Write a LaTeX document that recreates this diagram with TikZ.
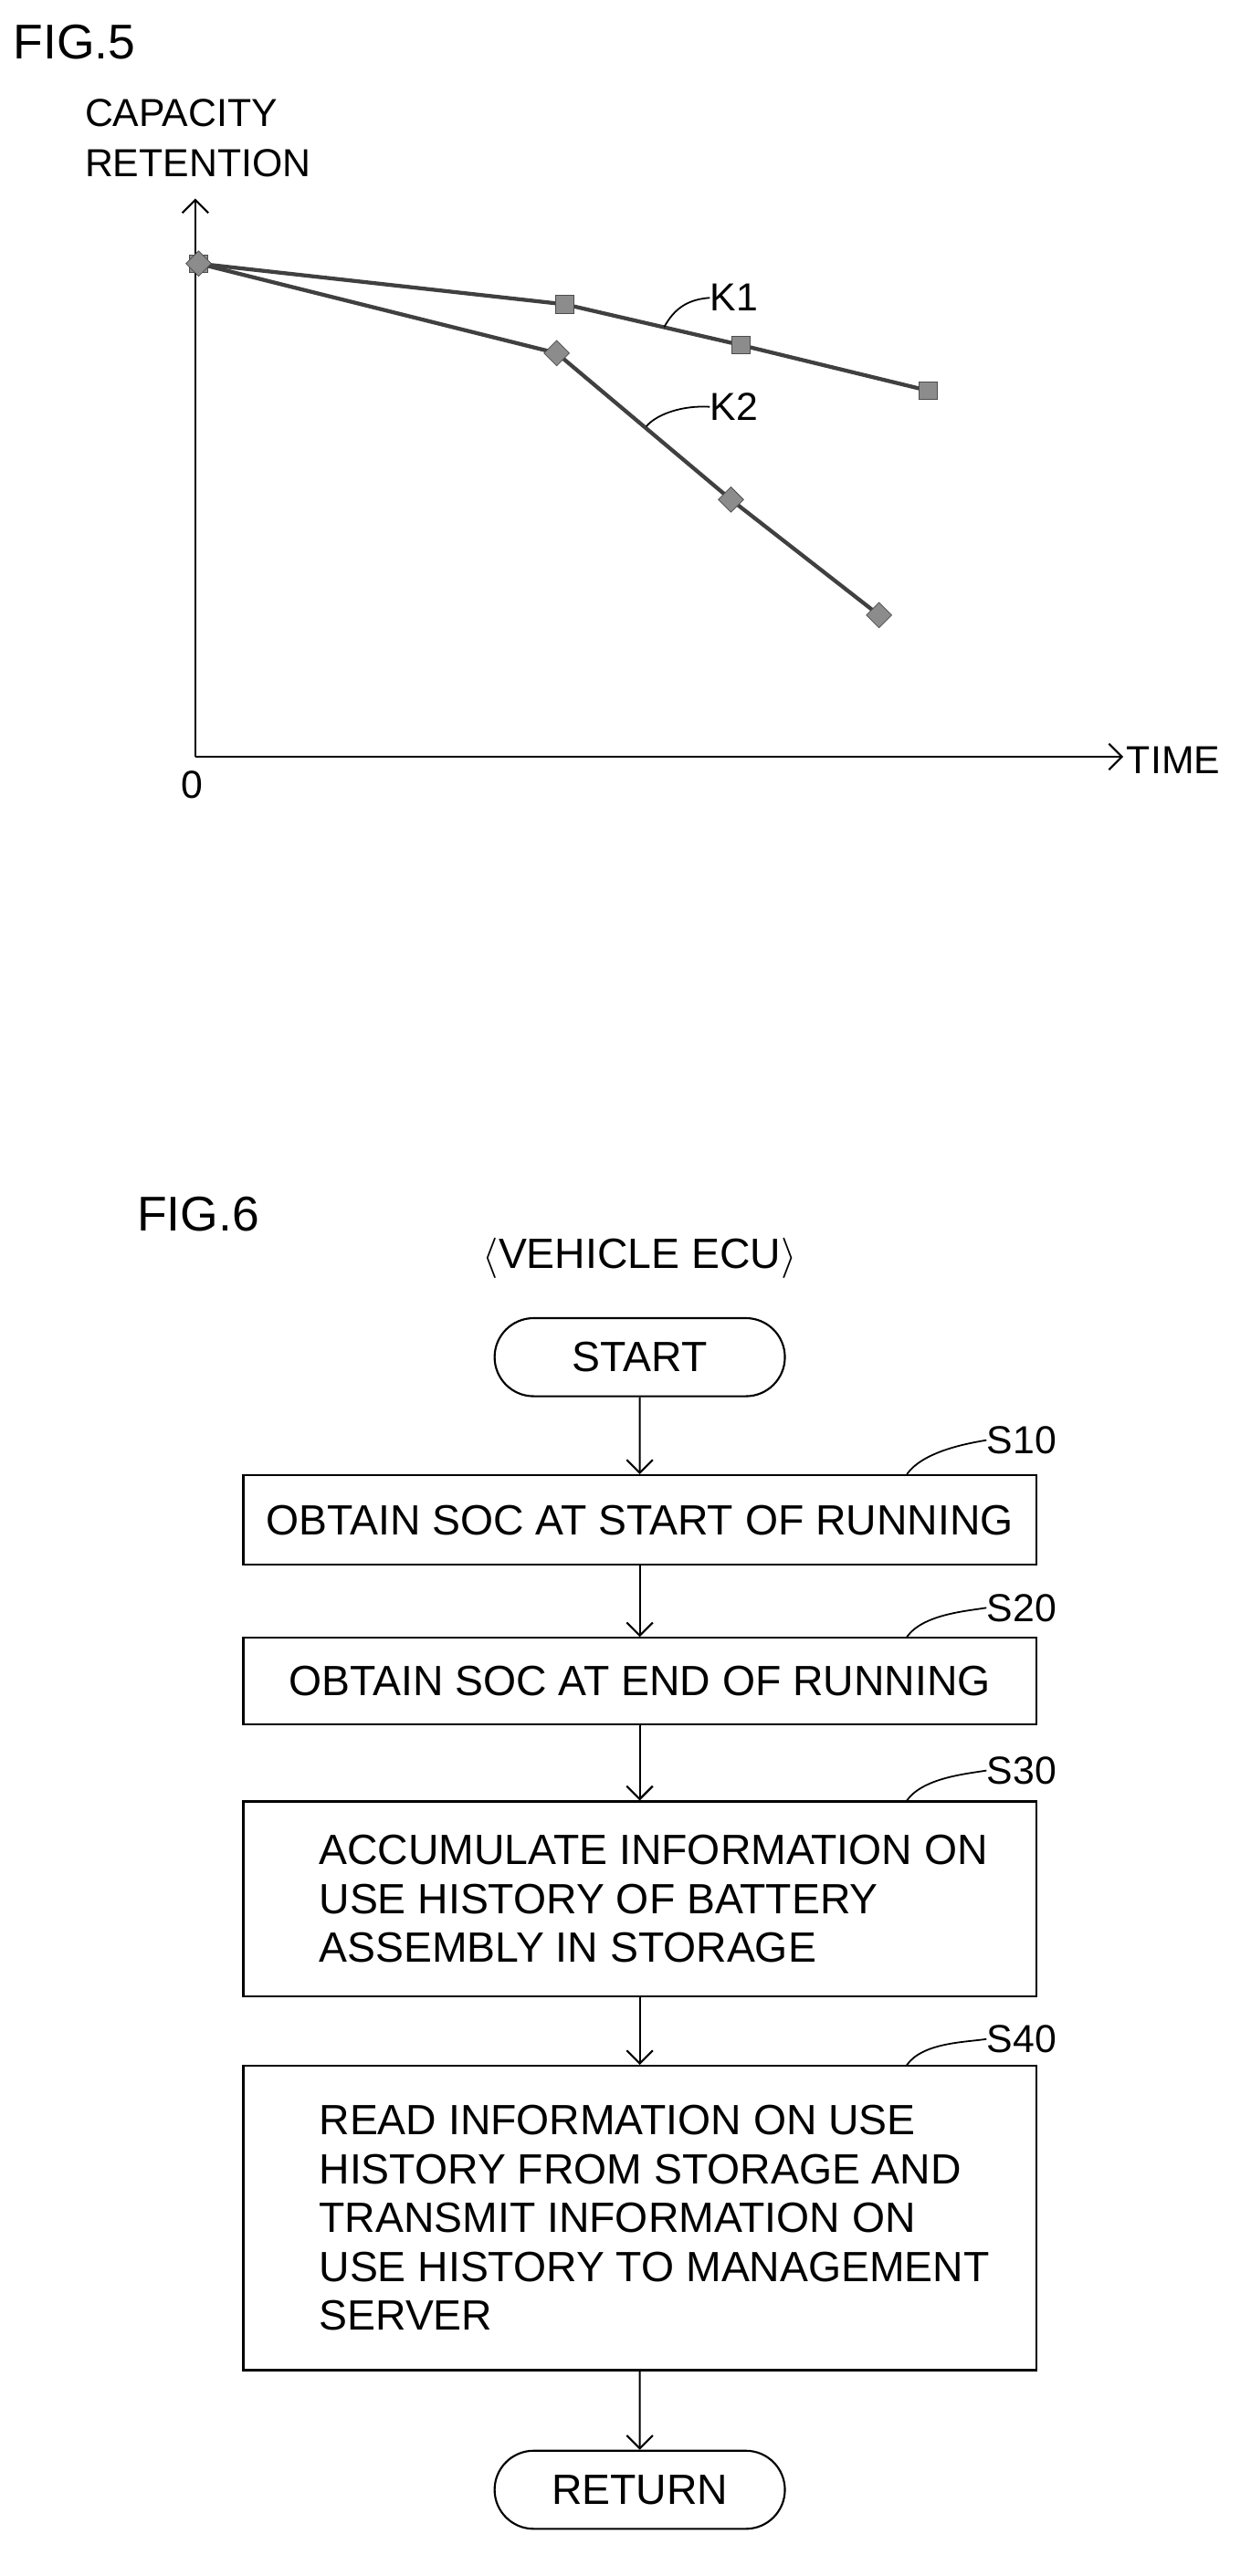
\documentclass[tikz,border=0pt]{standalone}
\usepackage{fontspec}
\setmainfont{Liberation Sans}
\usetikzlibrary{arrows.meta, positioning, shapes.geometric, shapes.misc}
\begin{document}
\begin{tikzpicture}[x=1pt, y=-1pt,
          txt/.style = {font=\fontsize{24}{30}\selectfont, inner sep=0pt},
          box/.style = {draw, line width=1.2pt, minimum width=487pt, align=center,
              font=\fontsize{26}{31}\selectfont, inner sep=0pt},
          steptxt/.style = {align=left, font=\fontsize{26}{30}\selectfont, inner sep=0pt},
          term/.style = {draw, line width=1.2pt, rounded rectangle, minimum width=185pt,
              minimum height=48pt, font=\fontsize{26}{30}\selectfont},
          sq/.style = {draw=black!70, fill=black!45, minimum size=11pt, inner sep=0pt},
          dm/.style = {sq, rotate=45},
          link/.style = {-{Straight Barb[length=8pt]}, line width=1.2pt},
          curve/.style = {draw=black!75, line width=2.4pt}
          ]
          \useasboundingbox (0,0) rectangle (768,1583);

          % FIG.5
          \node (f5) [txt, font=\fontsize{30}{32}\selectfont, anchor=west] at (8,26) {FIG.5};
          \node (ylab) [txt, align=left, anchor=west] at (52,85) {CAPACITY\\[1pt]RETENTION};
          \coordinate (o) at (120,465);
          \coordinate (ytop) at (120,122);
          \coordinate (xend) at (690,465);
          \draw [link] (o) -- (ytop);
          \draw [link] (o) -- (xend);
          \node (time) [txt, anchor=west] at (692,467) {TIME};
          \node (zero) [txt] at (118,482) {0};

          % curves
          \draw [curve] (122,162) -- (347,187) -- (455,212) -- (570,240);
          \draw [curve] (122,162) -- (342,217) -- (449,307) -- (540,378);
          \foreach \x/\y [count=\i] in {122/162, 347/187, 455/212, 570/240}
            \node (k1p\i) [sq] at (\x,\y) {};
          \foreach \x/\y [count=\i] in {122/162, 342/217, 449/307, 540/378}
            \node (k2p\i) [dm] at (\x,\y) {};
          \node (k1) [txt, anchor=west] at (436,183) {K1};
          \node (k2) [txt, anchor=west] at (436,250) {K2};
          \draw [line width=1pt] (408,201) .. controls (414,190) and (422,184) .. (k1.west);
          \draw [line width=1pt] (397,262) .. controls (404,254) and (420,249) .. (k2.west);

          % FIG.6
          \node (f6) [txt, font=\fontsize{30}{32}\selectfont, anchor=west] at (84,746) {FIG.6};
          \node (ecu) [txt, font=\fontsize{26}{30}\selectfont] at (393,773) {$\langle$VEHICLE ECU$\rangle$};

          \node (start) [term] at (393,834) {START};
          \node (s10) [box, minimum height=55pt] at (393,934) {OBTAIN SOC AT START OF RUNNING};
          \node (s20) [box, minimum height=53pt] at (393,1033) {OBTAIN SOC AT END OF RUNNING};
          \node (s30) [box, minimum height=120pt] at (393,1167) {};
          \node (s30t) [steptxt, right=47pt of s30.west, anchor=west]
              {ACCUMULATE INFORMATION ON\\USE HISTORY OF BATTERY\\ASSEMBLY IN STORAGE};
          \node (s40) [box, minimum height=187pt] at (393,1363) {};
          \node (s40t) [steptxt, right=47pt of s40.west, anchor=west]
              {READ INFORMATION ON USE\\HISTORY FROM STORAGE AND\\TRANSMIT INFORMATION ON\\USE HISTORY TO MANAGEMENT\\SERVER};
          \node (ret) [term] at (393,1530) {RETURN};

          % step labels
          \foreach \s/\y in {s10/885, s20/988, s30/1088, s40/1253} {
            \node (\s l) [txt, anchor=west] at (606,\y) {\MakeUppercase{\s}};
            \draw [line width=1pt] (\s.north east) ++(-80,0) .. controls +(10,-14) and +(-12,2) .. (\s l.west);
          }

          % links
          \draw [link] (start) -- (s10);
          \draw [link] (s10) -- (s20);
          \draw [link] (s20) -- (s30);
          \draw [link] (s30) -- (s40);
          \draw [link] (s40) -- (ret);
\end{tikzpicture}
\end{document}
